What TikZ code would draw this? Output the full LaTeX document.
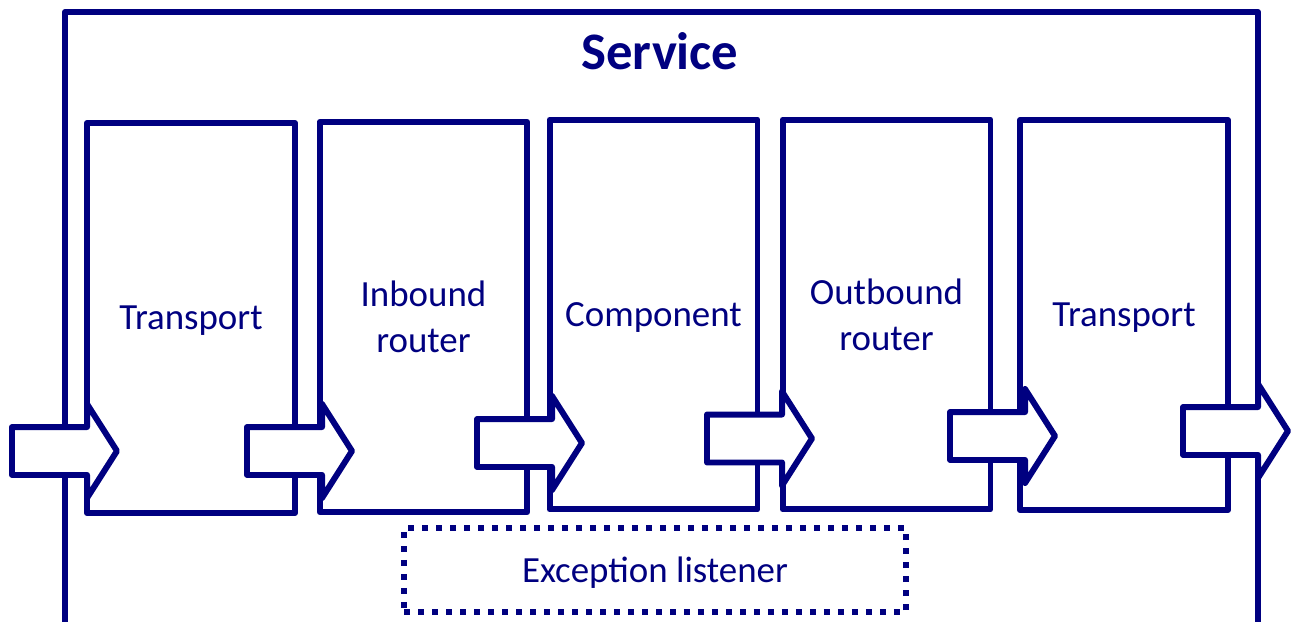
\documentclass[tikz,border=0pt]{standalone}
\usepackage{fontspec}
\setmainfont{Carlito}
\usetikzlibrary{shapes.arrows}
\definecolor{navy}{RGB}{0,0,128}

\begin{document}
\begin{tikzpicture}[x=0.02cm,y=-0.02cm,
  every node/.style={text=navy,font=\fontsize{21}{26}\selectfont},
  stage/.style={draw=navy,line width=3.4pt,line join=round,rectangle,minimum width=4.16cm,minimum height=7.8cm,align=center,inner sep=0pt},
  flow/.style={single arrow,draw=navy,fill=white,line width=3.4pt,line join=round,minimum height=2.1cm,inner xsep=0pt,inner ysep=0.42cm,outer sep=0pt,single arrow head extend=0.46cm,single arrow tip angle=115,anchor=tail},
  listener/.style={draw=navy,line width=3.4pt,dash pattern=on 0.12cm off 0.16cm,minimum width=10.04cm,minimum height=1.68cm,text depth=0pt}]
\useasboundingbox (0,0) rectangle (1292,622);

% service frame, open at the bottom
\draw[navy,line width=3.4pt,line join=round] (65,640) -- (65,12) -- (1258,12) -- (1258,640);
\node[font=\fontsize{30}{36}\selectfont\bfseries] (service) at (660,51) {Service};

\node[stage,text depth=0pt] (transportin) at (191,318) {Transport};
\node[stage] (inbound) at (423.5,317) {Inbound\\router};
\node[stage,text depth=0pt] (component) at (653.5,314.5) {Component};
\node[stage] (outbound) at (886.5,314.5) {Outbound\\router};
\node[stage,text depth=0pt] (transportout) at (1124,315) {Transport};

\node[flow] (in) at (12,451) {};
\node[flow] (toinbound) at (247,451) {};
\node[flow] (tocomponent) at (477,443) {};
\node[flow] (tooutbound) at (707,438.5) {};
\node[flow] (totransport) at (950,436) {};
\node[flow] (out) at (1183,431) {};

\node[listener] (listener) at (655,570) {Exception listener};
\end{tikzpicture}
\end{document}
